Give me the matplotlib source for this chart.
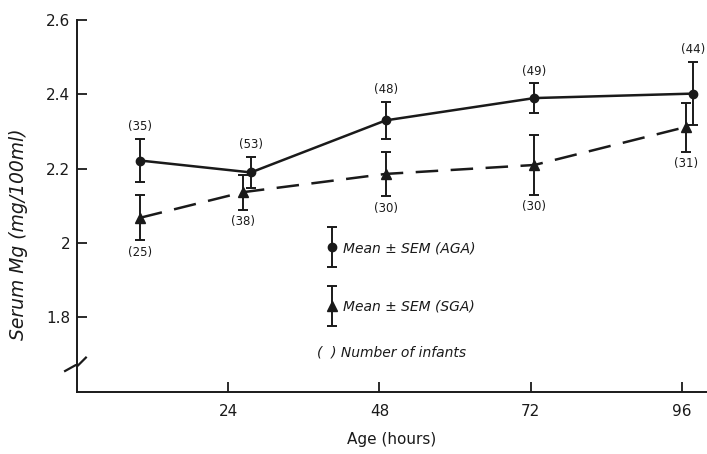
import matplotlib
matplotlib.use('Agg')
import matplotlib.pyplot as plt
from matplotlib.legend_handler import HandlerErrorbar
from matplotlib.container import ErrorbarContainer

# values
hours_aga = [10, 27.6, 49, 72.6, 97.8]
mg_aga = [2.222, 2.19, 2.33, 2.39, 2.402]
sem_aga = [0.058, 0.042, 0.05, 0.04, 0.085]
n_aga = [35, 53, 48, 49, 44]

hours_sga = [10, 26.4, 49, 72.6, 96.6]
mg_sga = [2.068, 2.137, 2.186, 2.21, 2.312]
sem_sga = [0.06, 0.047, 0.06, 0.08, 0.066]
n_sga = [25, 38, 30, 30, 31]

x_ticks = [24, 48, 72, 96]
y_ticks = [1.8, 2.0, 2.2, 2.4, 2.6]
y_tick_labels = ['1.8', '2', '2.2', '2.4', '2.6']

ink = '#1a1a1a'


class VBarHandler(HandlerErrorbar):
    # vertical bar + marker only, no horizontal line in the legend
    def create_artists(self, *args, **kwargs):
        artists = super().create_artists(*args, **kwargs)
        artists[-2].set_visible(False)
        return artists


fig = plt.figure(figsize=(7.07, 4.54), dpi=100)
ax = fig.add_axes([0.109, 0.137, 0.891, 0.819])

eb_aga = ax.errorbar(hours_aga, mg_aga, yerr=sem_aga, color=ink, lw=1.8,
                     marker='o', ms=6, capsize=3.5, elinewidth=1.4, capthick=1.4,
                     label='Mean \u00b1 SEM (AGA)')
eb_sga = ax.errorbar(hours_sga, mg_sga, yerr=sem_sga, color=ink, lw=1.8,
                     marker='^', ms=6.5, capsize=3.5, elinewidth=1.4, capthick=1.4,
                     dashes=(9, 5), label='Mean \u00b1 SEM (SGA)')

# number of infants
for x, y, s, n in zip(hours_aga, mg_aga, sem_aga, n_aga):
    ax.annotate(f'({n})', (x, y + s), xytext=(0, 4), textcoords='offset points',
                ha='center', va='bottom', fontsize=8.5, color=ink)
for x, y, s, n in zip(hours_sga, mg_sga, sem_sga, n_sga):
    ax.annotate(f'({n})', (x, y - s), xytext=(0, -4), textcoords='offset points',
                ha='center', va='top', fontsize=8.5, color=ink)

ax.set_xlim(0, 100)
ax.set_ylim(1.6, 2.6)
ax.set_xticks(x_ticks)
ax.set_yticks(y_ticks)
ax.set_yticklabels(y_tick_labels)
ax.tick_params(direction='in', length=7, width=1.3, colors=ink, labelsize=11)
ax.tick_params(axis='x', pad=9)
ax.tick_params(axis='y', pad=5)

for side in ['top', 'right']:
    ax.spines[side].set_visible(False)
for side in ['left', 'bottom']:
    ax.spines[side].set_linewidth(1.4)
    ax.spines[side].set_color(ink)

ax.set_xlabel('Age (hours)', fontsize=11, color=ink, labelpad=9)
ax.set_ylabel('Serum Mg (mg/100ml)', fontsize=13.5, style='italic', color=ink)
ax.yaxis.set_label_coords(-0.078, 0.425)

# axis break mark
ax.plot([-0.019, -0.002, 0.001, 0.014], [0.056, 0.072, 0.07, 0.092],
        transform=ax.transAxes, color=ink, lw=1.6, clip_on=False)

leg = ax.legend(handles=[eb_aga, eb_sga], loc='upper left',
                bbox_to_anchor=(0.393, 0.405), frameon=False, numpoints=1,
                handlelength=1.0, handletextpad=0.3, labelspacing=3.2,
                borderpad=0, borderaxespad=0,
                handler_map={ErrorbarContainer: VBarHandler(yerr_size=1.45)},
                prop={'size': 10, 'style': 'italic'})
for t in leg.get_texts():
    t.set_color(ink)

ax.text(0.381, 0.105, '(  ) Number of infants', transform=ax.transAxes,
        fontsize=10, style='italic', va='center', ha='left', color=ink)

fig.savefig('out.png', dpi=100)
